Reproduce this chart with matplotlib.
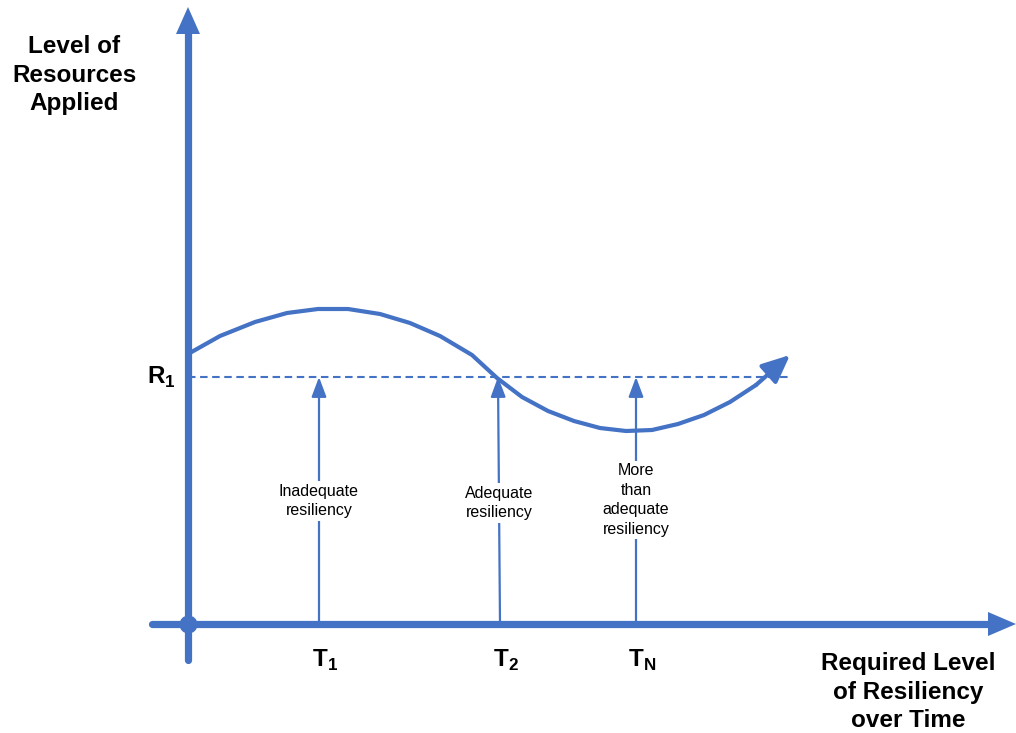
import matplotlib
matplotlib.use("Agg")
import matplotlib.pyplot as plt

plt.rcParams['font.family'] = ['Liberation Sans', 'DejaVu Sans']
plt.rcParams['mathtext.fontset'] = 'custom'
plt.rcParams['mathtext.rm'] = 'Liberation Sans'
plt.rcParams['mathtext.bf'] = 'Liberation Sans:bold'

BLUE = '#4472C4'

# resources curve (time vs resource level, arbitrary units)
curve_x = [0, 32, 67, 99, 130, 160, 192, 222, 252, 284, 309, 334, 360,
           386, 412, 438, 464, 490, 516, 542, 568, 602]
curve_y = [270, 288, 302, 311, 315, 315, 310, 301, 288, 269, 246, 227, 213,
           203, 196, 193, 194, 200, 209, 222, 239, 269]

r1_level = 247
r1_end = 602
marker_x_bottom = [131, 312, 448]
marker_x_top = [131, 310, 448]
marker_ticks = [r'$\mathbf{T}_\mathbf{1}$', r'$\mathbf{T}_\mathbf{2}$', r'$\mathbf{T}_\mathbf{N}$']
marker_notes = ['Inadequate\nresiliency', 'Adequate\nresiliency',
                'More\nthan\nadequate\nresiliency']
note_y = [123, 121, 124]

fig = plt.figure(figsize=(10.16, 7.33), dpi=100)
ax = fig.add_axes([0, 0, 1, 1])
ax.set_xlim(-188, 828)
ax.set_ylim(-109, 624)
ax.axis('off')

# axes
ax.plot([0, 0], [-36, 600], color=BLUE, lw=5.2, solid_capstyle='round', zorder=3)
ax.arrow(0, 590, 0, 27, width=1, head_width=24, head_length=27,
         length_includes_head=True, color=BLUE, lw=0, zorder=3)
ax.plot([-36, 800], [0, 0], color=BLUE, lw=5.2, solid_capstyle='round', zorder=3)
ax.arrow(790, 0, 38, 0, width=1, head_width=24, head_length=28,
         length_includes_head=True, color=BLUE, lw=0, zorder=3)
ax.plot([0], [0], 'o', color=BLUE, ms=12, zorder=4)

# R1 dashed level
ax.plot([0, r1_end], [r1_level, r1_level], color=BLUE, lw=1.5,
        dashes=(3.6, 2.2), zorder=2)
ax.text(-12, r1_level, r'$\mathbf{R}_\mathbf{1}$', fontsize=17.5,
        ha='right', va='center')

# curve with arrow at end
ax.plot(curve_x[:-1], curve_y[:-1], color=BLUE, lw=3, solid_capstyle='round',
        zorder=3)
ax.annotate('', xy=(curve_x[-1], curve_y[-1]), xytext=(curve_x[-2], curve_y[-2]),
            arrowprops=dict(arrowstyle='-|>,head_length=0.85,head_width=0.38',
                            color=BLUE, lw=3, mutation_scale=20,
                            shrinkA=0, shrinkB=0), zorder=3)

# vertical marker arrows
for xb, xt, tick, note, ny in zip(marker_x_bottom, marker_x_top, marker_ticks,
                                  marker_notes, note_y):
    ax.annotate('', xy=(xt, r1_level), xytext=(xb, 0),
                arrowprops=dict(arrowstyle='-|>,head_length=0.8,head_width=0.3',
                                color=BLUE, lw=1.6, mutation_scale=15,
                                shrinkA=0, shrinkB=0), zorder=2)
    ax.text((xb + xt) / 2, ny, note, fontsize=11.5, ha='center', va='center',
            linespacing=1.38, zorder=5,
            bbox=dict(boxstyle='square,pad=0.15', fc='white', ec='none'))
    ax.text(xb + 6, -36, tick, fontsize=17.5, ha='center', va='center')

# axis titles
ax.text(-114, 549, 'Level of\nResources\nApplied', fontsize=17.5, fontweight='bold',
        ha='center', va='center', linespacing=1.32)
ax.text(720, -68, 'Required Level\nof Resiliency\nover Time', fontsize=17.5,
        fontweight='bold', ha='center', va='center', linespacing=1.32)

fig.savefig('out.png', dpi=100)
